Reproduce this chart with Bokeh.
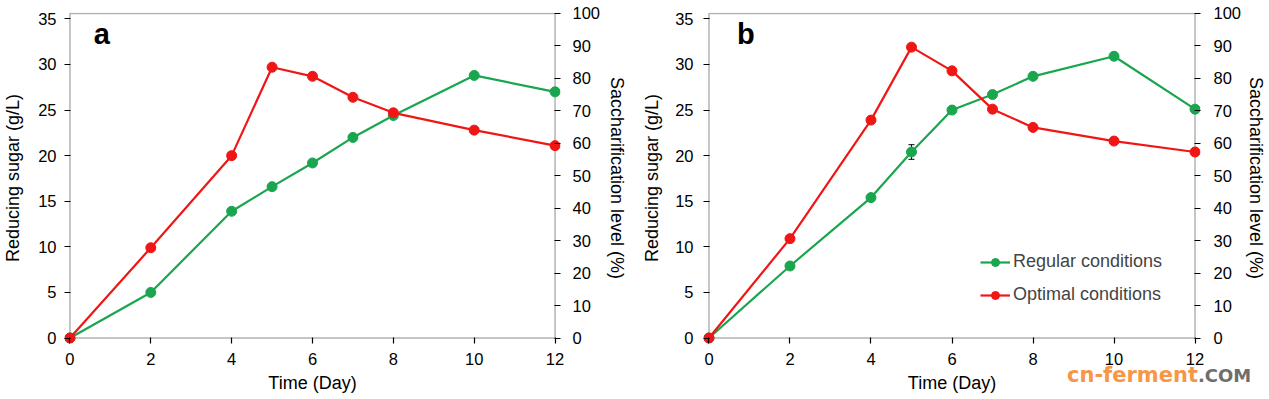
from bokeh.plotting import figure
from bokeh.models import (Range1d, LinearAxis, FixedTicker, Legend, LegendItem,
                          Label, Whisker, ColumnDataSource, Div, BoxAnnotation)
from bokeh.layouts import row
from bokeh.embed import file_html
from bokeh.resources import INLINE

days = [0, 2, 4, 5, 6, 7, 8, 10, 12]

# Panel a (reducing sugar, g/L)
a_regular = [0, 5.0, 13.9, 16.6, 19.2, 22.0, 24.4, 28.8, 27.0]
a_optimal = [0, 9.9, 20.0, 29.7, 28.7, 26.4, 24.7, 22.8, 21.1]
# Panel b (reducing sugar, g/L)
b_regular = [0, 7.9, 15.4, 20.4, 25.0, 26.7, 28.7, 30.9, 25.1]
b_optimal = [0, 10.9, 23.9, 31.9, 29.3, 25.1, 23.1, 21.6, 20.4]
b_regular_err = [0, 0, 0, 0.8, 0, 0, 0.3, 0, 0]
b_optimal_err = [0, 0.3, 0, 0, 0, 0.4, 0, 0, 0]

left_ticks = [0, 5, 10, 15, 20, 25, 30, 35]
right_ticks = [0, 10, 20, 30, 40, 50, 60, 70, 80, 90, 100]
x_ticks = [0, 2, 4, 6, 8, 10, 12]

# axis limits of the plot box, and a little room so edge markers are not cut
X_MIN, X_MAX = 0, 12
Y_MAX = 35.6          # left axis top (g/L) matching 100 % on the right axis
PCT_MAX = 100
PAD_X, PAD_Y_LO, PAD_Y_HI = 0.135, 0.6, 0.1

GREEN = "#19A64E"
RED = "#F01616"
FONT = "Liberation Sans"


def make_panel(letter, reg, opt, reg_err, opt_err, width, bl, br, bt, bb,
               lstand, llab, rstand, rlab, legend=False):
    p = figure(width=width, height=399, output_backend="svg", toolbar_location=None,
               x_range=Range1d(X_MIN - PAD_X, X_MAX + PAD_X),
               y_range=Range1d(-PAD_Y_LO, Y_MAX + PAD_Y_HI),
               min_border_left=bl, min_border_right=br, min_border_top=bt,
               min_border_bottom=bb)
    p.xgrid.visible = False
    p.ygrid.visible = False
    p.outline_line_color = None
    p.background_fill_color = "white"
    p.border_fill_color = "white"
    k = PCT_MAX / Y_MAX
    p.extra_y_ranges = {"sac": Range1d(-PAD_Y_LO * k, (Y_MAX + PAD_Y_HI) * k)}
    p.add_layout(LinearAxis(y_range_name="sac"), "right")

    for ax in p.axis:
        ax.axis_line_color = None
        ax.major_tick_line_color = "black"
        ax.major_tick_line_width = 1.2
        ax.major_tick_in = 6
        ax.major_tick_out = 0
        ax.minor_tick_line_color = None
        ax.major_label_text_font = FONT
        ax.major_label_text_font_size = "16.5px"
        ax.major_label_text_color = "black"
        ax.axis_label_text_font = FONT
        ax.axis_label_text_font_size = "18px"
        ax.axis_label_text_font_style = "normal"
        ax.axis_label_text_color = "black"

    p.add_layout(BoxAnnotation(left=X_MIN, right=X_MAX, bottom=0, top=Y_MAX,
                               fill_color=None, fill_alpha=0, line_color="black",
                               line_width=1.5, level="underlay"))

    p.xaxis.ticker = FixedTicker(ticks=x_ticks)
    p.xaxis.axis_label = "Time (Day)"
    p.xaxis.major_label_standoff = 9
    p.xaxis.axis_label_standoff = 5
    p.yaxis[0].ticker = FixedTicker(ticks=left_ticks)
    p.yaxis[0].axis_label = "Reducing sugar (g/L)"
    p.yaxis[0].major_label_standoff = lstand
    p.yaxis[0].axis_label_standoff = llab
    p.yaxis[1].ticker = FixedTicker(ticks=right_ticks)
    p.yaxis[1].axis_label = "Saccharification level (%)"
    p.yaxis[1].major_label_standoff = rstand
    p.yaxis[1].axis_label_standoff = rlab

    src_r = ColumnDataSource(dict(x=days, y=reg, lo=[v - e for v, e in zip(reg, reg_err)],
                                  hi=[v + e for v, e in zip(reg, reg_err)]))
    src_o = ColumnDataSource(dict(x=days, y=opt, lo=[v - e for v, e in zip(opt, opt_err)],
                                  hi=[v + e for v, e in zip(opt, opt_err)]))

    lr = p.line("x", "y", source=src_r, line_color=GREEN, line_width=2.2)
    sr = p.scatter("x", "y", source=src_r, size=10, fill_color=GREEN, line_color=GREEN)
    lo = p.line("x", "y", source=src_o, line_color=RED, line_width=2.2)
    so = p.scatter("x", "y", source=src_o, size=10, fill_color=RED, line_color=RED)

    for src in (src_r, src_o):
        w = Whisker(base="x", upper="hi", lower="lo", source=src, line_color="black",
                    line_width=1)
        w.upper_head.size = 6
        w.lower_head.size = 6
        w.upper_head.line_color = "black"
        w.lower_head.line_color = "black"
        p.add_layout(w)

    p.add_layout(Label(x=0.59 if letter == "a" else 0.69, y=33.3, text=letter,
                       text_font=FONT, text_font_size="29px", text_font_style="bold",
                       text_baseline="middle", text_color="black"))

    if legend:
        leg = Legend(items=[LegendItem(label="Regular conditions", renderers=[lr, sr]),
                            LegendItem(label="Optimal conditions", renderers=[lo, so])],
                     location=(277, 38))
        leg.glyph_width = 30
        leg.label_text_font = FONT
        leg.label_text_font_size = "18px"
        leg.label_standoff = 3
        leg.spacing = 12
        leg.padding = 0
        leg.margin = 0
        leg.border_line_color = None
        leg.background_fill_alpha = 0
        p.add_layout(leg)
    return p


pa = make_panel("a", a_regular, a_optimal, [0] * 9, [0] * 9, 630, 64, 67, 12, 53,
                lstand=8, llab=12, rstand=12, rlab=4)
pb = make_panel("b", b_regular, b_optimal, b_regular_err, b_optimal_err, 639, 73, 68, 9, 56,
                lstand=10, llab=10, rstand=13, rlab=2, legend=True)

mark = Div(text='<span style="color:#F79646">cn-ferment</span>'
                '<span style="color:#6E6E6E;font-size:18px">.COM</span>',
           width=200, height=24,
           styles={"position": "absolute", "left": "1062px", "top": "360px",
                   "font-family": "DejaVu Sans", "font-weight": "bold",
                   "font-size": "21px", "line-height": "1", "white-space": "nowrap",
                   "z-index": "10"})

layout = row(pa, pb, mark)
open("out.html", "w").write(file_html(layout, INLINE))
